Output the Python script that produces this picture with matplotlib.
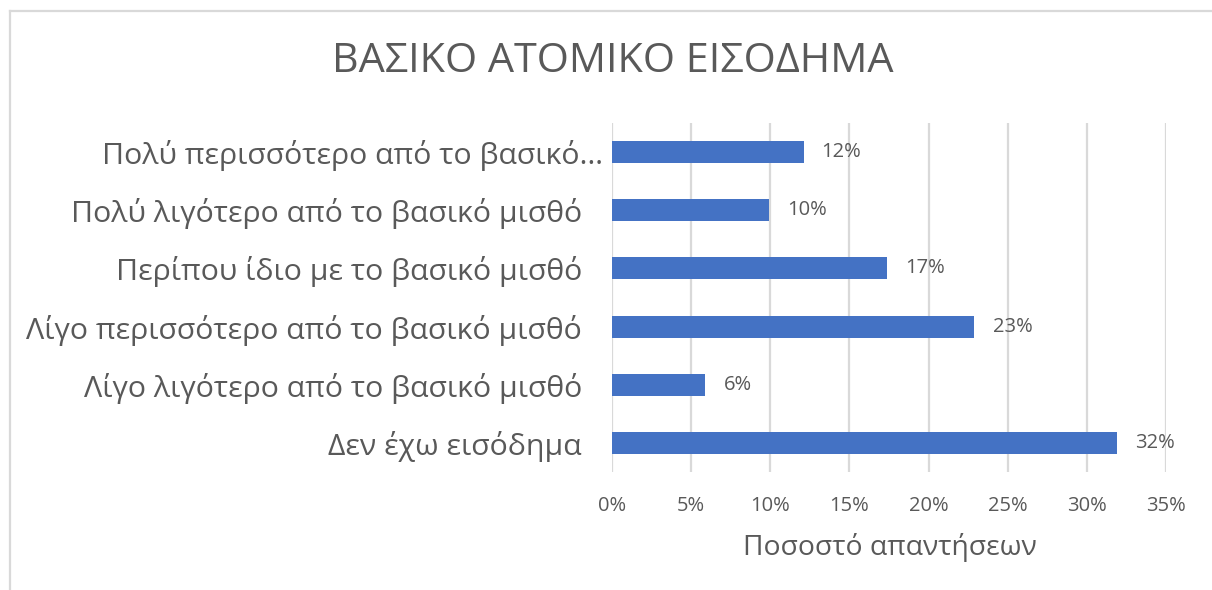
import matplotlib
matplotlib.use("Agg")
import matplotlib.pyplot as plt
from matplotlib.ticker import PercentFormatter
from matplotlib.lines import Line2D
import matplotlib.transforms as mtransforms

plt.rcParams['font.family'] = ['Open Sans', 'DejaVu Sans']

# Survey answers, listed bottom to top as drawn
categories = [
    "Δεν έχω εισόδημα",
    "Λίγο λιγότερο από το βασικό μισθό",
    "Λίγο περισσότερο από το βασικό μισθό",
    "Περίπου ίδιο με το βασικό μισθό",
    "Πολύ λιγότερο από το βασικό μισθό",
    "Πολύ περισσότερο από το βασικό…",
]
shares = [0.319, 0.059, 0.229, 0.174, 0.099, 0.121]
xticks = [0.00, 0.05, 0.10, 0.15, 0.20, 0.25, 0.30, 0.35]

title = "ΒΑΣΙΚΟ ΑΤΟΜΙΚΟ ΕΙΣΟΔΗΜΑ"
xlabel = "Ποσοστό απαντήσεων"

TEXT = "#595959"
GRID = "#d9d9d9"
BAR = "#4472c4"

fig = plt.figure(figsize=(12.12, 5.90), dpi=100)
fig.patch.set_facecolor("white")

# Chart-area border (left and top edges visible)
fig.add_artist(Line2D([9.5 / 1212, 9.5 / 1212], [0, 1 - 11 / 590], transform=fig.transFigure,
                      color=GRID, lw=1.6))
fig.add_artist(Line2D([9.5 / 1212, 1], [1 - 11 / 590, 1 - 11 / 590], transform=fig.transFigure,
                      color=GRID, lw=1.6))

ax = fig.add_axes([612 / 1212, 1 - 472 / 590, (1166 - 612) / 1212, (472 - 123) / 590])

y = range(len(categories))
bars = ax.barh(y, shares, height=0.38, color=BAR, zorder=3)

ax.set_xlim(0, 0.35)
ax.set_ylim(-0.5, len(categories) - 0.5)
ax.set_xticks(xticks)
ax.xaxis.set_major_formatter(PercentFormatter(1.0, decimals=0))
ax.set_yticks(list(y))
ax.set_yticklabels(categories)

ax.grid(axis="x", color=GRID, lw=1.6, zorder=0)
for s in ax.spines.values():
    s.set_visible(False)
ax.tick_params(axis="both", length=0, colors=TEXT)
ax.tick_params(axis="x", labelsize=14.5, pad=17)
ax.tick_params(axis="y", labelsize=21.8, pad=21.6)

# the truncated label sits a little further right, as its ellipsis overhangs
lbl = ax.get_yticklabels()[-1]
lbl.set_transform(lbl.get_transform() + mtransforms.ScaledTranslation(21 / 100, 0, fig.dpi_scale_trans))

for b, v in zip(bars, shares):
    ax.annotate(f"{v * 100:.0f}%", (b.get_width(), b.get_y() + b.get_height() / 2),
                xytext=(13, 0), textcoords="offset points",
                va="center", ha="left", fontsize=14.5, color=TEXT)

ax.set_xlabel(xlabel, fontsize=20.3, color=TEXT)
ax.xaxis.set_label_coords(0.5 * (745 + 1035) / 1212, 1 - 548 / 590, transform=fig.transFigure)
ax.xaxis.label.set_va("center")

fig.text(0.5 * (333 + 893) / 1212, 1 - 62 / 590, title, ha="center", va="center",
         fontsize=29.8, color=TEXT)

fig.savefig("out.png", dpi=100, facecolor="white")
